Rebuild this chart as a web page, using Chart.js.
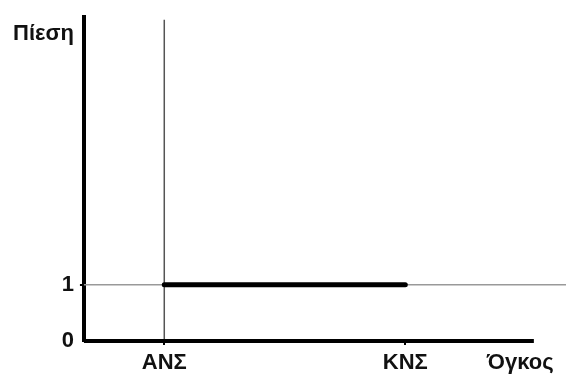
<!DOCTYPE html>
<html>
<head>
<meta charset="utf-8">
<script src="https://cdn.jsdelivr.net/npm/chart.js@4/dist/chart.umd.min.js"></script>
<style>
  html, body { margin: 0; padding: 0; background: #fff; }
  #wrap { width: 566px; height: 374px; }
</style>
</head>
<body>
<div id="wrap"><canvas id="pv"></canvas></div>
<script>
// axis ranges (arbitrary units)
const volumeMax = 6;
const pressureMax = 5.77;

// tick positions + labels
const volumeTicks = [1, 4, 5.43];
const volumeLabels = ["ΑΝΣ", "ΚΝΣ", "Όγκος"];
const pressureTicks = [0, 1, 5.47];
const pressureLabels = ["0", "1", "Πίεση"];

// isobaric process
const isobarVolume = [1, 4];
const isobarPressure = [1, 1];

// guide lines
const guideVolume = [0, volumeMax];
const guidePressure = [1, 1];
const anchorVolume = [1, 1];
const anchorPressure = [0, 5.72];

// drawn x axis
const axisVolume = [0, 5.6];
const axisPressure = [0, 0];

const pts = (xs, ys) => xs.map((x, i) => ({ x, y: ys[i] }));

const font = { family: "'Liberation Sans', Arial, sans-serif", size: 22, weight: "bold", lineHeight: 1 };

// first entry ends up on top
new Chart(document.getElementById("pv"), {
  type: "line",
  data: {
    datasets: [
      { data: pts(isobarVolume, isobarPressure), borderColor: "#000", borderWidth: 5, borderCapStyle: "round" },
      { data: pts(axisVolume, axisPressure), borderColor: "#000", borderWidth: 4 },
      { data: pts(anchorVolume, anchorPressure), borderColor: "#555", borderWidth: 1.5 },
      { data: pts(guideVolume, guidePressure), borderColor: "#999", borderWidth: 1.5 },
    ].map((d) => ({ ...d, pointRadius: 0, clip: false, fill: false, tension: 0 })),
  },
  options: {
    responsive: true,
    maintainAspectRatio: false,
    animation: false,
    layout: { padding: { left: 7, top: 0, right: 0, bottom: -7 } },
    plugins: { legend: { display: false }, tooltip: { enabled: false } },
    scales: {
      x: {
        type: "linear",
        min: 0,
        max: volumeMax,
        afterBuildTicks: (s) => { s.ticks = volumeTicks.map((v) => ({ value: v })); },
        ticks: {
          autoSkip: false,
          maxRotation: 0,
          padding: 7,
          color: "#111",
          font,
          callback: (v, i) => volumeLabels[i],
        },
        grid: {
          drawOnChartArea: false,
          tickLength: 4,
          lineWidth: 2,
          color: (c) => (c.index < 2 ? "#000" : "rgba(0,0,0,0)"),
        },
        border: { display: false },
      },
      y: {
        type: "linear",
        min: 0,
        max: pressureMax,
        afterBuildTicks: (s) => { s.ticks = pressureTicks.map((v) => ({ value: v })); },
        ticks: {
          autoSkip: false,
          padding: 6,
          color: "#111",
          font,
          callback: (v, i) => pressureLabels[i],
        },
        grid: {
          drawOnChartArea: false,
          tickLength: 4,
          lineWidth: 2,
          color: (c) => (c.index === 1 ? "#000" : "rgba(0,0,0,0)"),
        },
        border: { display: true, color: "#000", width: 4 },
      },
    },
  },
});
</script>
</body>
</html>
